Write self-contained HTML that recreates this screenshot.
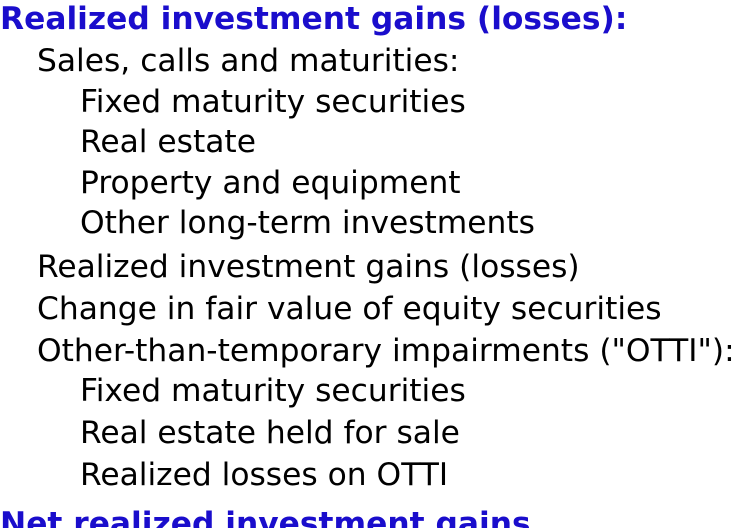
<!DOCTYPE html>
<html>
<head>
<meta charset="utf-8">
<style>
  html,body{margin:0;padding:0;background:#fff;width:746px;height:528px;overflow:hidden;}
  svg{display:block;}
  text{font-family:"DejaVu Sans","Liberation Sans",sans-serif;font-size:31.3px;fill:#000;}
  .h{font-weight:bold;fill:#1a0dcc;}
</style>
</head>
<body>
<svg width="746" height="528" viewBox="0 0 746 528">
  <text class="h" x="0" y="29">Realized investment gains (losses):</text>
  <text x="37" y="71">Sales, calls and maturities:</text>
  <text x="80" y="112">Fixed maturity securities</text>
  <text x="80" y="152">Real estate</text>
  <text x="80" y="193">Property and equipment</text>
  <text x="80" y="233">Other long-term investments</text>
  <text x="37" y="277">Realized investment gains (losses)</text>
  <text x="37" y="319">Change in fair value of equity securities</text>
  <text x="37" y="361">Other-than-temporary impairments ("OTTI"):</text>
  <text x="80" y="401">Fixed maturity securities</text>
  <text x="80" y="443">Real estate held for sale</text>
  <text x="80" y="485">Realized losses on OTTI</text>
  <text class="h" x="0" y="534">Net realized investment gains</text>
</svg>
</body>
</html>
